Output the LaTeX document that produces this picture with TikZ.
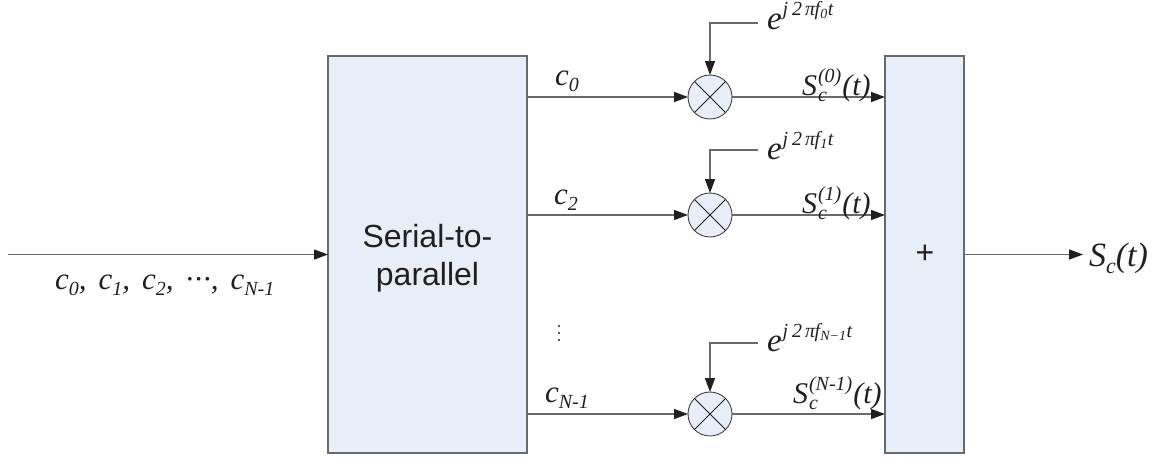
\documentclass[tikz,border=0pt]{standalone}
\usepackage{fontspec}
\setmainfont{Liberation Serif}
\newfontfamily\arialfont{Liberation Sans}
\usetikzlibrary{arrows.meta}
\definecolor{boxfill}{HTML}{E7EEF7}
\definecolor{linegray}{HTML}{6A6A6A}
\definecolor{ink}{HTML}{231F20}

% lowered / raised small text for indices
\newcommand\lo[2][20]{\raisebox{-0.22em}{\fontsize{#1}{#1}\selectfont #2}}
\newcommand\hi[2][20]{\raisebox{0.42em}{\fontsize{#1}{#1}\selectfont #2}}
\newcommand\subsup[2]{\kern1pt\rlap{\lo{#1}}\hi{#2}\kern1pt}
% carrier exponential e^{j 2 pi f t}
\newcommand\carrier[1]{{\fontsize{33}{33}\selectfont e}\hspace{1pt}\raisebox{14pt}{\fontsize{20}{20}\selectfont j\hspace{4pt}2\hspace{3pt}π\kern-0.5pt f\raisebox{-3pt}{\fontsize{14}{14}\selectfont #1}\kern0.5pt t}}
% gap between the items of the input sequence
\newcommand\gap{,\hspace{12pt}}

\begin{document}
\begin{tikzpicture}[x=1pt,y=-1pt,
  every node/.style={text=ink, inner sep=0pt, outer sep=0pt},
  block/.style={draw=linegray, line width=1.6pt, fill=boxfill},
  mixer/.style={circle, draw=ink!85, line width=0.9pt, fill=boxfill, minimum size=44pt},
  wire/.style={draw=linegray, line width=1.3pt},
  arr/.style={wire, -{Triangle[length=14pt,width=10pt,color=ink]}},
  lbl/.style={font=\fontsize{31}{31}\selectfont\itshape, anchor=base west},
  outlbl/.style={font=\fontsize{30}{30}\selectfont\itshape, anchor=base west},
  explbl/.style={font=\itshape, anchor=base west}]
\useasboundingbox (0,0) rectangle (1167,458);

% blocks
\node[block, minimum width=199pt, minimum height=397pt] (sp) at (427.5,254.5) {};
\node[align=center, font=\arialfont\fontsize{32}{38}\selectfont] (sptext) at (427.5,258) {Serial-to-\\parallel};
\node[block, minimum width=79pt, minimum height=397pt] (sum) at (924.5,254.5) {};
\node[font=\arialfont\fontsize{32}{32}\selectfont] (plus) at (925,254) {+};

% mixers
\foreach \n/\y in {m0/97, m1/215, m2/414}{
  \node[mixer] (\n) at (710,\y) {};
  \draw[ink, line width=0.9pt] (\n.45) -- (\n.225) (\n.135) -- (\n.-45);
}

% input and output
\coordinate (in) at (8,254.5);
\coordinate (out) at (1083,254.5);
\draw[arr] (in) -- (sp.west);
\draw[arr] (sum.east) -- (out);
\node[lbl] (inlbl) at (55,289) {c\lo{0}\gap c\lo{1}\gap c\lo{2}\gap ·\kern1pt·\kern1pt·\gap c\lo{N-1}};
\node[font=\fontsize{34}{34}\selectfont\itshape, anchor=base west] (outlbl) at (1089,266) {S\lo[22]{c}(t)};

% branches
\foreach \n in {m0,m1,m2}{
  \draw[arr] (sp.east |- \n) -- (\n.west);
  \draw[arr] (\n.east) -- (sum.west |- \n);
}

% carrier inputs
\coordinate (e0) at (758,23);
\coordinate (e1) at (758,150);
\coordinate (e2) at (758,343);
\foreach \e/\n in {e0/m0,e1/m1,e2/m2}{
  \draw[arr] (\e) -| (\n.north);
}
\node[explbl] (e0lbl) at (767,29) {\carrier{0}};
\node[explbl] (e1lbl) at (767,159) {\carrier{1}};
\node[explbl] (e2lbl) at (767,351) {\carrier{\itshape N−1}};

% branch labels
\node[lbl] (c0) at (555,85) {c\lo{0}};
\node[lbl] (c1) at (554,204) {c\lo{2}};
\node[lbl] (c2) at (545,402) {c\lo{N-1}};
\node[outlbl] (s0) at (802,95) {S\subsup{c}{(0)}(t)};
\node[outlbl] (s1) at (802,213) {S\subsup{c}{(1)}(t)};
\node[outlbl] (s2) at (793,403) {S\subsup{c}{(N-1)}(t)};

% further branches omitted
\foreach \y in {326,333,340}
  \fill[ink] (559,\y) circle (1.2pt);
\end{tikzpicture}
\end{document}
